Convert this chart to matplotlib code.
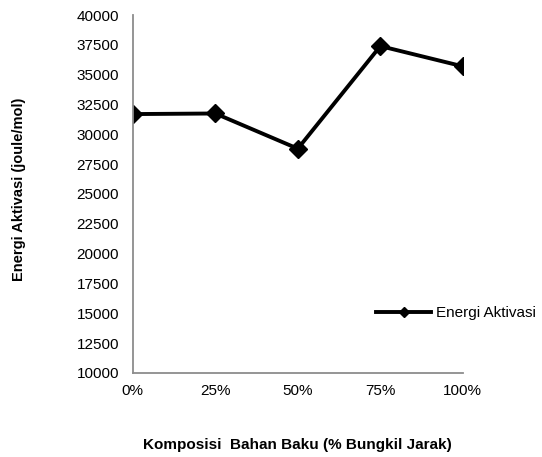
import numpy as np
import matplotlib.pyplot as plt
from matplotlib.lines import Line2D

plt.rcParams['font.family'] = ['Liberation Sans', 'DejaVu Sans']

komposisi = [0, 25, 50, 75, 100]
x_labels = ["0%", "25%", "50%", "75%", "100%"]
energi = [31700, 31750, 28800, 37400, 35700]
y_ticks = np.arange(10000, 40001, 2500)

fig = plt.figure(figsize=(5.42, 4.57), dpi=100)
ax = fig.add_axes([0.245, 0.184, 0.609, 0.783])

ax.plot(komposisi, energi, color="black", linewidth=2.8,
        marker="D", markersize=9.5, label="Energi Aktivasi")

ax.set_xlim(0, 100)
ax.set_ylim(10000, 40000)
ax.set_xticks(komposisi)
ax.set_xticklabels(x_labels)
ax.set_yticks(y_ticks)
ax.set_yticklabels([str(v) for v in y_ticks])
ax.tick_params(length=0, labelsize=11)
ax.tick_params(axis='y', pad=10)
ax.tick_params(axis='x', pad=8)

for s in ["top", "right"]:
    ax.spines[s].set_visible(False)
for s in ["left", "bottom"]:
    ax.spines[s].set_color("#8c8c8c")
    ax.spines[s].set_linewidth(1.3)

# axis titles placed in figure coords
fig.text(0.035, 0.585, "Energi Aktivasi (joule/mol)", fontsize=10.5,
         fontweight="bold", rotation=90, ha="center", va="center")
fig.text(0.548, 0.026, "Komposisi  Bahan Baku (% Bungkil Jarak)",
         fontsize=11, fontweight="bold", ha="center", va="center")

handle = Line2D([], [], color="black", linewidth=2.8, marker="D", markersize=5)
ax.legend([handle], ["Energi Aktivasi"], loc="center left",
          bbox_to_anchor=(376 / 542, 1 - 313 / 457), bbox_transform=fig.transFigure,
          frameon=False, fontsize=11, handlelength=3.6, handletextpad=0.33,
          borderpad=0, borderaxespad=0)

fig.savefig("out.png", dpi=100)
